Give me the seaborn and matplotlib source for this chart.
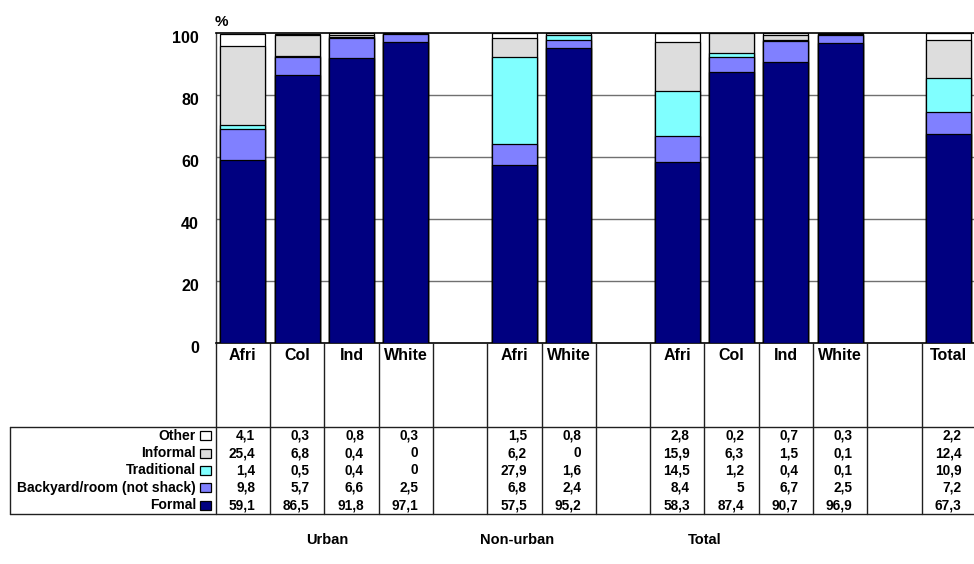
import matplotlib
matplotlib.use("Agg")
import matplotlib.pyplot as plt
import matplotlib.transforms as mtransforms
from matplotlib.patches import Rectangle
from matplotlib.lines import Line2D
import numpy as np
import pandas as pd
import seaborn as sns

# ---- data -------------------------------------------------------------
columns = ["Afri", "Col", "Ind", "White", "", "Afri", "White", "",
           "Afri", "Col", "Ind", "White", "", "Total"]
groups = ["Urban", "Non-urban", "Total"]

formal = [59.1, 86.5, 91.8, 97.1, None, 57.5, 95.2, None,
          58.3, 87.4, 90.7, 96.9, None, 67.3]
backyard = [9.8, 5.7, 6.6, 2.5, None, 6.8, 2.4, None,
            8.4, 5, 6.7, 2.5, None, 7.2]
traditional = [1.4, 0.5, 0.4, 0, None, 27.9, 1.6, None,
               14.5, 1.2, 0.4, 0.1, None, 10.9]
informal = [25.4, 6.8, 0.4, 0, None, 6.2, 0, None,
            15.9, 6.3, 1.5, 0.1, None, 12.4]
other = [4.1, 0.3, 0.8, 0.3, None, 1.5, 0.8, None,
         2.8, 0.2, 0.7, 0.3, None, 2.2]

series_names = ["Formal", "Backyard/room (not shack)", "Traditional",
                "Informal", "Other"]
series_values = [formal, backyard, traditional, informal, other]
series_colors = ["#000080", "#8080FF", "#80FFFF", "#DDDDDD", "#FFFFFF"]

# ---- figure -----------------------------------------------------------
W, H = 974, 564
sns.set_theme(style="white")
plt.rcParams["font.family"] = ["Liberation Sans", "DejaVu Sans"]
plt.rcParams["font.weight"] = "bold"
plt.rcParams["text.color"] = "black"
plt.rcParams["ytick.color"] = "black"
plt.rcParams["xtick.color"] = "black"
plt.rcParams["axes.labelcolor"] = "black"

fig = plt.figure(figsize=(W / 100, H / 100), dpi=100)


def fx(px):
    return px / W


def fy(py):
    return 1 - py / H


ax_left, ax_right, ax_top, ax_bottom = 215.7, 976.0, 33.0, 343.0
ax = fig.add_axes([fx(ax_left), fy(ax_bottom),
                   fx(ax_right - ax_left), (ax_bottom - ax_top) / H])

slot_keys = [f"c{i}" for i in range(len(columns))]
arr = np.array([[np.nan if v is None else v for v in s] for s in series_values])
cum = np.nancumsum(arr, axis=0)
has_bar = [v is not None for v in formal]

# stacked bars: draw cumulative totals from the top layer downwards
for layer in range(len(series_names) - 1, -1, -1):
    df = pd.DataFrame({
        "slot": [k for k, ok in zip(slot_keys, has_bar) if ok],
        "value": [cum[layer, i] for i, ok in enumerate(has_bar) if ok],
    })
    sns.barplot(data=df, x="slot", y="value", order=slot_keys, ax=ax,
                color=series_colors[layer], saturation=1, width=0.83,
                edgecolor="black", linewidth=0.9, errorbar=None, zorder=3)

ax.set_xlim(-0.5, len(columns) - 0.5)
ax.set_ylim(0, 100)
ax.set_yticks(range(0, 101, 20))
ax.set_yticklabels([str(v) for v in range(0, 101, 20)],
                   fontsize=11.5, fontweight="bold", color="black")
ax.tick_params(axis="y", length=0, pad=12)
ax.set_xticks([])
ax.set_xlabel("")
ax.set_ylabel("")
for y in range(20, 100, 20):
    ax.axhline(y, color="#707070", lw=1.0, zorder=1)
for side in ["top", "bottom"]:
    ax.spines[side].set_color("black")
    ax.spines[side].set_linewidth(1.2)
ax.spines["left"].set_color("#404040")
ax.spines["left"].set_linewidth(1.0)
ax.spines["right"].set_visible(False)

# shift y tick labels slightly downward
offset = mtransforms.ScaledTranslation(0, -4 / 100, fig.dpi_scale_trans)
for lbl in ax.get_yticklabels():
    lbl.set_transform(lbl.get_transform() + offset)

fig.text(fx(215), fy(22), "%", fontsize=11, fontweight="bold",
         ha="left", va="center")

# ---- data table below the axis ---------------------------------------
blend = mtransforms.blended_transform_factory(ax.transData, fig.transFigure)
table_top, table_bottom = 427.0, 514.0
row_h = (table_bottom - table_top) / 5
line_kw = dict(color="#202020", lw=1.0, clip_on=False)

for i in range(len(columns) + 1):
    fig.add_artist(Line2D([i - 0.5, i - 0.5], [fy(ax_bottom), fy(table_bottom)],
                          transform=blend, **line_kw))
for py in (table_top, table_bottom):
    fig.add_artist(Line2D([fx(10), 1.0], [fy(py), fy(py)],
                          transform=fig.transFigure, **line_kw))
fig.add_artist(Line2D([fx(10), fx(10)], [fy(table_top), fy(table_bottom)],
                      transform=fig.transFigure, **line_kw))

# column headers
for i, name in enumerate(columns):
    if name:
        fig.text(i, fy(355), name, transform=blend, ha="center", va="center",
                 fontsize=11.5, fontweight="bold")

# rows: top row is the top layer of the stack
for r, layer in enumerate(range(len(series_names) - 1, -1, -1)):
    cy = table_top + row_h * (r + 0.5)
    fig.text(fx(196), fy(cy), series_names[layer], ha="right", va="center",
             fontsize=10, fontweight="bold")
    fig.add_artist(Rectangle((fx(200), fy(cy + 4.5)), fx(11), 9 / H,
                             transform=fig.transFigure,
                             facecolor=series_colors[layer],
                             edgecolor="black", lw=0.9))
    for i, v in enumerate(series_values[layer]):
        if v is None:
            continue
        txt = f"{v:g}".replace(".", ",")
        fig.text(i + 0.23, fy(cy), txt, transform=blend, ha="right",
                 va="center", fontsize=9.8, fontweight="bold")

# group captions
for pos, g in zip([1.55, 5.05, 8.5], groups):
    fig.text(pos, fy(540), g, transform=blend, ha="center", va="center",
             fontsize=10.5, fontweight="bold")

fig.savefig("out.png", dpi=100)
